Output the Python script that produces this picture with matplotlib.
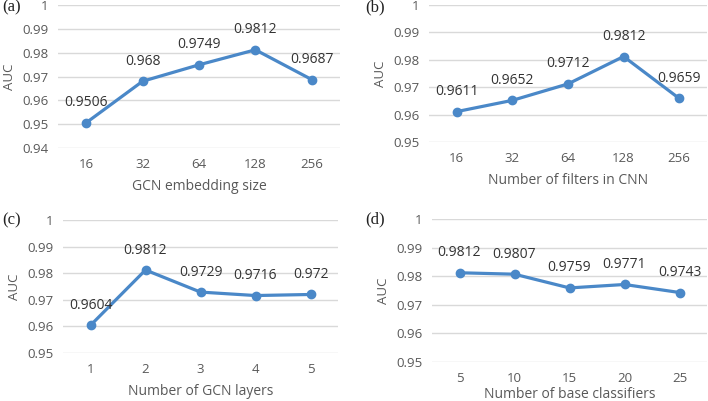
import matplotlib.pyplot as plt

# data for the four panels
emb_labels = ["16", "32", "64", "128", "256"]
emb_auc = [0.9506, 0.968, 0.9749, 0.9812, 0.9687]

filt_labels = ["16", "32", "64", "128", "256"]
filt_auc = [0.9611, 0.9652, 0.9712, 0.9812, 0.9659]

layer_labels = ["1", "2", "3", "4", "5"]
layer_auc = [0.9604, 0.9812, 0.9729, 0.9716, 0.972]

clf_labels = ["5", "10", "15", "20", "25"]
clf_auc = [0.9812, 0.9807, 0.9759, 0.9771, 0.9743]

plt.rcParams['font.family'] = ['Open Sans', 'DejaVu Sans']
line_color = "#4a88c8"
text_color = "#595959"


def draw_panel(rect, labels, values, ymin, xlabel, tag, tagpos, xpad=6):
    ax = fig.add_axes(rect)
    x = range(len(labels))
    ax.plot(x, values, color=line_color, lw=2.3, marker="o", ms=6, zorder=3)
    for xi, v in zip(x, values):
        ax.annotate(f"{v:g}", (xi, v), xytext=(0, 9), textcoords="offset points",
                    ha="center", va="bottom", fontsize=10, color="#333333")
    ax.set_xlim(-0.5, len(labels) - 0.5)
    ax.set_ylim(ymin, 1.0)
    ticks = [round(ymin + 0.01 * i, 2) for i in range(int(round((1 - ymin) / 0.01)) + 1)]
    ax.set_yticks(ticks)
    ax.set_yticklabels([f"{t:g}" for t in ticks])
    ax.set_xticks(list(x))
    ax.set_xticklabels(labels)
    ax.grid(axis="y", color="#d9d9d9", lw=1)
    ax.set_axisbelow(True)
    for s in ax.spines.values():
        s.set_visible(False)
    ax.tick_params(length=0, labelsize=9.5, colors=text_color, pad=7)
    ax.set_xlabel(xlabel, fontsize=10, color=text_color, labelpad=xpad)
    ax.set_ylabel("AUC", fontsize=9.5, color=text_color, labelpad=4)
    fig.text(tagpos[0], tagpos[1], tag, fontsize=12, family="Liberation Serif",
             color="#222222", ha="left", va="center")
    return ax


fig = plt.figure(figsize=(7.08, 4.01), dpi=100)

draw_panel([58 / 708, 1 - 148 / 401, 282 / 708, 143 / 401], emb_labels, emb_auc,
           0.94, "GCN embedding size", "(a)", (2 / 708, 1 - 7 / 401))
draw_panel([429 / 708, 1 - 142 / 401, 278 / 708, 137 / 401], filt_labels, filt_auc,
           0.95, "Number of filters in CNN", "(b)", (365 / 708, 1 - 7 / 401))
draw_panel([63 / 708, 1 - 353 / 401, 275 / 708, 133 / 401], layer_labels, layer_auc,
           0.95, "Number of GCN layers", "(c)", (2 / 708, 1 - 220 / 401))
draw_panel([432 / 708, 1 - 362 / 401, 275 / 708, 143 / 401], clf_labels, clf_auc,
           0.95, "Number of base classifiers", "(d)", (365 / 708, 1 - 219 / 401), xpad=2)

fig.savefig("out.png", dpi=100)
